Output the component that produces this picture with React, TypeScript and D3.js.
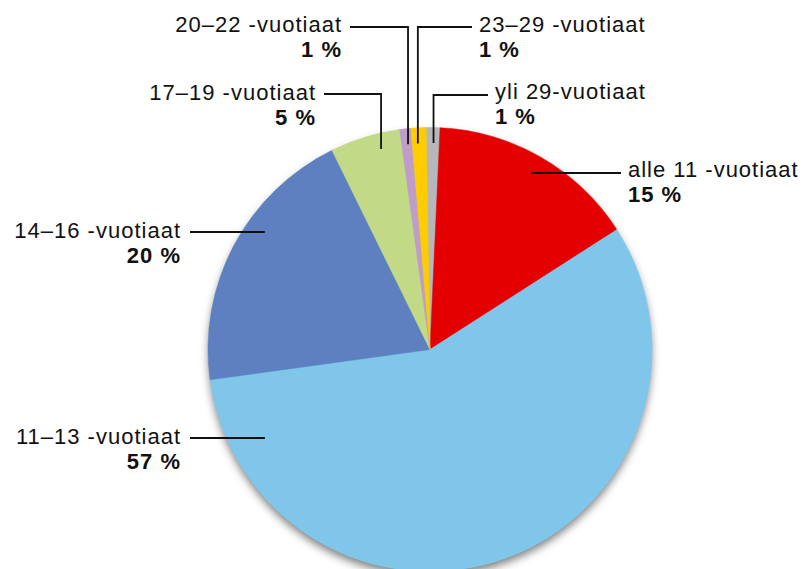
import React, { useEffect, useRef } from 'react';
import * as d3 from 'd3';

// Age groups, in drawing order clockwise from 12 o'clock
const groups = [
  'yli 29-vuotiaat',
  'alle 11 -vuotiaat',
  '11–13 -vuotiaat',
  '14–16 -vuotiaat',
  '17–19 -vuotiaat',
  '20–22 -vuotiaat',
  '23–29 -vuotiaat',
];
const shares = [1.0, 15.2, 56.9, 19.9, 5.1, 0.8, 1.1];
const shareLabels = ['1 %', '15 %', '57 %', '20 %', '5 %', '1 %', '1 %'];
const colors = ['#b5b7ba', '#e50000', '#7fc6ea', '#5e80c0', '#c2d985', '#bf9dc8', '#ffcc00'];

// Label placement (layout only): text anchor, leader route and where it lands in the slice
type LabelLayout = {
  x: number; y: number; anchor: 'start' | 'end';
  lineY: number; lineX: number; elbow: boolean; f: number; rf: number;
};
const layout: LabelLayout[] = [
  { x: 495, y: 99, anchor: 'start', lineY: 95, lineX: 488, elbow: true, f: 0.55, rf: 0.93 },
  { x: 628, y: 177, anchor: 'start', lineY: 173, lineX: 621, elbow: false, f: 0.5, rf: 0.915 },
  { x: 181, y: 444, anchor: 'end', lineY: 438, lineX: 190, elbow: false, f: 0.9, rf: 0.845 },
  { x: 181, y: 238, anchor: 'end', lineY: 232, lineX: 190, elbow: false, f: 0.6, rf: 0.91 },
  { x: 316, y: 100, anchor: 'end', lineY: 94, lineX: 324, elbow: true, f: 0.68, rf: 0.93 },
  { x: 342, y: 32, anchor: 'end', lineY: 27, lineX: 350, elbow: true, f: 0.6, rf: 0.93 },
  { x: 479, y: 32, anchor: 'start', lineY: 27, lineX: 472, elbow: true, f: 0.4, rf: 0.93 },
];

const WIDTH = 808;
const HEIGHT = 569;
const CX = 430;
const CY = 349.5;
const R = 222;
const START = (-1 * Math.PI) / 180;

export default function App() {
  const svgRef = useRef<SVGSVGElement>(null);

  useEffect(() => {
    const svg = d3.select(svgRef.current);
    svg.selectAll('*').remove();

    const defs = svg.append('defs');
    const filter = defs.append('filter')
      .attr('id', 'pieShadow')
      .attr('x', '-20%').attr('y', '-20%')
      .attr('width', '140%').attr('height', '140%');
    filter.append('feDropShadow')
      .attr('dx', 0).attr('dy', 5)
      .attr('stdDeviation', 4)
      .attr('flood-color', '#000')
      .attr('flood-opacity', 0.5);

    const pie = d3.pie<number>()
      .sort(null)
      .value(d => d)
      .startAngle(START)
      .endAngle(START + 2 * Math.PI);
    const arcs = pie(shares);

    const arc = d3.arc<d3.PieArcDatum<number>>()
      .innerRadius(0)
      .outerRadius(R);

    const g = svg.append('g').attr('transform', `translate(${CX},${CY})`);

    // Shadow base
    g.append('circle')
      .attr('r', R - 0.5)
      .attr('fill', '#7fc6ea')
      .attr('filter', 'url(#pieShadow)');

    g.selectAll('path.slice')
      .data(arcs)
      .join('path')
      .attr('class', 'slice')
      .attr('d', arc)
      .attr('fill', (_, i) => colors[i])
      .attr('stroke', (_, i) => colors[i])
      .attr('stroke-width', 0.5);

    // Leader lines
    const leaders = svg.append('g')
      .attr('fill', 'none')
      .attr('stroke', '#111')
      .attr('stroke-width', 1.8);

    arcs.forEach((a, i) => {
      const L = layout[i];
      const ang = a.startAngle + L.f * (a.endAngle - a.startAngle);
      const px = CX + Math.sin(ang) * R * L.rf;
      const py = CY - Math.cos(ang) * R * L.rf;
      const pts: [number, number][] = L.elbow
        ? [[L.lineX, L.lineY], [px, L.lineY], [px, py]]
        : [[L.lineX, L.lineY], [px, L.lineY]];
      leaders.append('path').attr('d', d3.line()(pts));
    });

    // Labels
    const labels = svg.append('g')
      .attr('font-family', '"Helvetica Neue", Helvetica, Arial, "Liberation Sans", sans-serif')
      .attr('font-size', 22)
      .attr('fill', '#111')
      .style('letter-spacing', '1px');

    groups.forEach((name, i) => {
      const L = layout[i];
      labels.append('text')
        .attr('x', L.x).attr('y', L.y)
        .attr('text-anchor', L.anchor)
        .text(name);
      labels.append('text')
        .attr('x', L.x).attr('y', L.y + 25)
        .attr('text-anchor', L.anchor)
        .attr('font-weight', 'bold')
        .text(shareLabels[i]);
    });
  }, []);

  return (
    <svg
      ref={svgRef}
      width={WIDTH}
      height={HEIGHT}
      style={{ position: 'absolute', left: 0, top: 0, display: 'block', background: '#fff' }}
    />
  );
}
